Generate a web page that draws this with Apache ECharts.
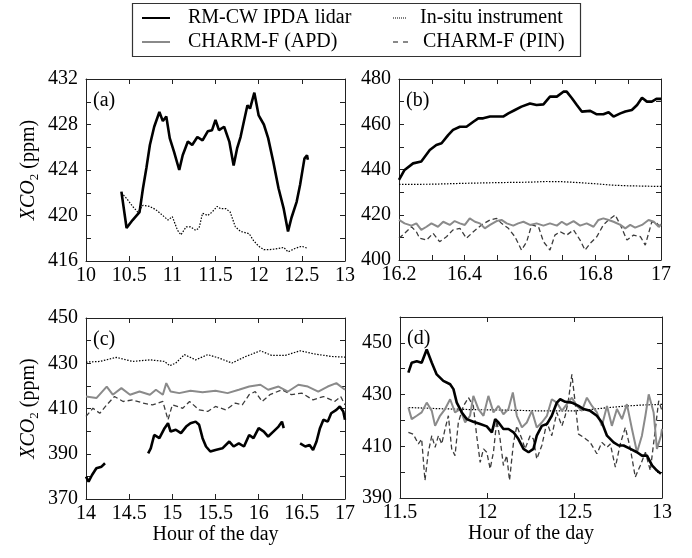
<!DOCTYPE html>
<html>
<head>
<meta charset="utf-8">
<script src="https://cdn.jsdelivr.net/npm/echarts@6/dist/echarts.min.js"></script>
<style>
  html, body { margin: 0; padding: 0; background: #fff; }
  #chart { width: 692px; height: 558px; }
</style>
</head>
<body>
<div id="chart"></div>
<script>
// panel (a)
const aLidar = [[10.41,422.1],[10.47,418.9],[10.54,419.6],[10.62,420.3],[10.66,422.4],[10.70,424.2],[10.74,426.2],[10.79,427.8],[10.85,429.1],[10.89,428.3],[10.93,428.7],[10.97,426.8],[11.02,425.6],[11.08,424.0],[11.12,425.3],[11.18,426.5],[11.23,426.2],[11.29,426.9],[11.35,426.6],[11.41,427.4],[11.46,427.5],[11.50,428.4],[11.54,427.5],[11.60,427.8],[11.66,426.5],[11.71,424.4],[11.75,425.9],[11.79,426.9],[11.83,428.3],[11.87,429.7],[11.90,429.4],[11.95,430.8],[12.00,428.8],[12.06,428.0],[12.11,426.8],[12.17,424.7],[12.23,422.4],[12.29,420.6],[12.34,418.6],[12.38,419.8],[12.44,421.2],[12.48,422.7],[12.53,425.0],[12.56,425.3],[12.57,424.9]];
const aInsitu = [[10.41,422.0],[10.47,421.5],[10.54,420.8],[10.60,420.3],[10.66,420.9],[10.74,420.8],[10.81,420.5],[10.89,420.0],[10.95,419.6],[11.00,419.9],[11.06,418.7],[11.10,418.3],[11.16,419.0],[11.21,419.0],[11.27,418.7],[11.31,418.9],[11.35,420.2],[11.41,420.0],[11.46,420.3],[11.52,420.8],[11.56,420.6],[11.62,420.6],[11.67,420.3],[11.73,419.0],[11.79,418.6],[11.89,418.4],[11.94,417.8],[12.00,417.3],[12.06,417.0],[12.13,417.0],[12.23,417.1],[12.29,417.2],[12.34,416.8],[12.42,417.1],[12.50,417.3],[12.57,417.1]];

// panel (b)
const bLidar = [[16.200,435.4],[16.217,439.8],[16.243,442.7],[16.268,443.5],[16.294,448.6],[16.314,450.8],[16.330,451.6],[16.350,455.2],[16.365,457.5],[16.386,458.9],[16.406,458.9],[16.427,461.1],[16.442,462.6],[16.457,462.6],[16.478,463.4],[16.498,463.4],[16.518,463.4],[16.534,464.8],[16.554,466.3],[16.574,467.8],[16.600,469.2],[16.620,468.5],[16.641,468.8],[16.661,472.2],[16.682,472.2],[16.702,474.4],[16.712,474.4],[16.728,471.5],[16.743,468.5],[16.758,465.6],[16.784,465.9],[16.804,464.4],[16.824,464.4],[16.840,465.3],[16.855,463.4],[16.876,464.8],[16.891,465.6],[16.911,466.3],[16.927,468.5],[16.942,471.7],[16.957,470.0],[16.972,470.0],[16.986,471.2],[17.000,471.2]];
const bInsitu = [[16.2,433.4],[16.3,433.5],[16.4,433.9],[16.5,434.2],[16.6,434.4],[16.65,434.7],[16.7,434.6],[16.75,434.2],[16.8,433.7],[16.85,433.1],[16.9,432.8],[17.0,432.5]];
const bApd = [[16.200,417.7],[16.217,416.2],[16.238,415.2],[16.253,416.2],[16.268,413.3],[16.284,414.7],[16.299,416.2],[16.319,414.7],[16.335,416.9],[16.355,415.5],[16.370,417.2],[16.386,416.2],[16.401,415.5],[16.416,418.4],[16.432,416.9],[16.447,416.2],[16.462,414.0],[16.478,415.5],[16.498,417.2],[16.513,417.7],[16.529,416.2],[16.549,415.2],[16.564,416.2],[16.580,416.9],[16.600,415.5],[16.620,416.2],[16.641,415.2],[16.661,416.2],[16.682,415.2],[16.697,416.9],[16.712,415.5],[16.733,417.2],[16.753,415.2],[16.773,416.2],[16.794,414.7],[16.809,417.7],[16.824,418.4],[16.840,417.7],[16.855,416.9],[16.876,415.5],[16.891,414.0],[16.906,415.5],[16.921,414.3],[16.942,415.5],[16.962,417.7],[16.978,416.9],[16.993,414.7],[17.000,415.8]];
const bPin = [[16.200,409.6],[16.217,411.8],[16.238,414.7],[16.253,412.5],[16.263,409.6],[16.284,408.8],[16.304,411.8],[16.324,408.1],[16.345,410.3],[16.365,413.3],[16.386,414.0],[16.406,409.6],[16.427,412.5],[16.452,415.5],[16.478,417.7],[16.498,418.4],[16.513,416.2],[16.534,414.0],[16.554,410.3],[16.574,404.4],[16.590,408.1],[16.605,415.5],[16.626,414.7],[16.641,408.1],[16.661,404.4],[16.676,411.0],[16.692,412.5],[16.712,411.0],[16.733,413.3],[16.753,408.8],[16.768,404.4],[16.784,407.4],[16.804,410.3],[16.824,415.5],[16.840,417.7],[16.860,419.9],[16.876,415.5],[16.896,408.8],[16.916,411.0],[16.937,410.3],[16.952,406.6],[16.972,416.9],[16.988,416.2],[17.000,414.0]];

// panel (c)
const cLidar = [[14.00,379.9],[14.03,377.7],[14.07,380.6],[14.12,383.6],[14.18,384.3],[14.22,385.8],[14.40,null],
  [14.72,390.2],[14.75,392.4],[14.79,398.3],[14.85,396.9],[14.91,401.3],[14.95,403.5],[14.98,399.8],[15.04,400.6],[15.10,399.1],[15.16,402.0],[15.21,403.5],[15.27,404.2],[15.31,402.8],[15.35,396.9],[15.39,393.2],[15.44,391.0],[15.50,391.7],[15.58,392.4],[15.66,395.4],[15.71,393.2],[15.77,394.6],[15.83,393.2],[15.89,398.3],[15.94,396.9],[16.00,401.3],[16.06,399.8],[16.11,397.6],[16.17,399.8],[16.23,402.0],[16.27,404.2],[16.29,401.3],[16.40,null],
  [16.48,394.6],[16.54,393.2],[16.59,393.9],[16.63,391.7],[16.67,395.4],[16.71,401.3],[16.75,405.0],[16.80,404.2],[16.84,407.9],[16.90,409.4],[16.94,410.9],[16.98,408.7],[17.00,405.0]];
const cInsitu = [[14.00,430.5],[14.16,430.8],[14.35,432.6],[14.54,430.8],[14.74,431.5],[14.91,430.8],[14.97,428.9],[15.04,430.1],[15.14,433.8],[15.27,431.5],[15.41,433.8],[15.54,432.3],[15.69,430.1],[15.85,433.0],[16.02,435.5],[16.15,433.5],[16.31,433.5],[16.48,435.5],[16.65,434.1],[16.84,433.0],[17.00,432.7]];
const cApd = [[14.00,415.3],[14.12,414.6],[14.24,419.7],[14.31,416.1],[14.41,419.0],[14.51,416.1],[14.62,417.5],[14.74,416.1],[14.81,418.3],[14.89,416.1],[14.93,421.2],[14.98,417.5],[15.08,416.8],[15.21,417.8],[15.35,417.2],[15.50,417.8],[15.64,416.8],[15.77,418.3],[15.89,419.7],[16.02,420.5],[16.11,418.3],[16.23,419.7],[16.34,417.5],[16.46,420.5],[16.57,419.7],[16.69,417.5],[16.80,419.7],[16.90,421.2],[17.00,418.3]];
const cPin = [[14.00,406.5],[14.08,410.1],[14.16,407.9],[14.24,411.6],[14.33,415.3],[14.43,413.1],[14.54,413.8],[14.66,412.4],[14.77,411.6],[14.89,413.1],[14.95,405.0],[15.00,411.6],[15.12,410.1],[15.20,413.1],[15.31,409.4],[15.41,408.7],[15.50,410.9],[15.62,409.4],[15.73,412.4],[15.81,411.6],[15.89,416.1],[15.96,417.5],[16.04,413.1],[16.13,416.1],[16.27,418.3],[16.38,416.1],[16.50,416.8],[16.63,413.8],[16.75,415.3],[16.88,413.1],[16.95,415.3],[17.00,411.6]];

// panel (d)
const dLidar = [[11.548,438.5],[11.567,442.3],[11.596,442.9],[11.624,442.3],[11.653,447.4],[11.682,442.3],[11.710,437.8],[11.748,435.3],[11.787,434.0],[11.806,432.1],[11.825,426.9],[11.854,423.1],[11.882,420.5],[11.920,419.5],[11.959,418.6],[11.997,417.7],[12.026,415.4],[12.045,420.5],[12.064,419.2],[12.092,416.7],[12.121,416.7],[12.150,415.4],[12.178,412.8],[12.207,409.0],[12.236,407.7],[12.264,409.0],[12.283,414.1],[12.312,417.9],[12.341,418.6],[12.369,421.8],[12.398,426.9],[12.417,428.2],[12.446,427.2],[12.484,426.9],[12.522,425.6],[12.551,424.4],[12.589,423.7],[12.627,421.8],[12.656,419.2],[12.685,414.1],[12.723,411.5],[12.752,410.3],[12.780,410.3],[12.819,409.0],[12.857,407.7],[12.885,406.4],[12.914,406.4],[12.943,402.6],[12.971,400.6],[12.994,399.4]];
const dInsitu = [[11.55,425.0],[11.7,424.6],[11.9,424.2],[12.1,424.0],[12.3,423.7],[12.5,423.7],[12.6,424.3],[12.7,425.0],[12.8,425.6],[12.9,426.0],[13.0,426.2]];
const dApd = [[11.548,425.0],[11.567,420.5],[11.596,421.8],[11.624,423.1],[11.653,426.9],[11.682,423.7],[11.701,417.9],[11.729,421.8],[11.758,424.4],[11.787,428.2],[11.815,423.1],[11.844,424.4],[11.873,419.2],[11.901,421.8],[11.920,429.5],[11.949,424.4],[11.978,421.8],[12.006,429.5],[12.035,423.1],[12.064,425.6],[12.092,422.4],[12.121,424.4],[12.146,430.8],[12.169,421.8],[12.198,417.3],[12.226,419.2],[12.255,423.7],[12.283,417.3],[12.312,419.2],[12.341,421.8],[12.369,428.2],[12.398,426.9],[12.427,423.7],[12.455,426.3],[12.484,428.8],[12.513,425.6],[12.541,423.7],[12.570,428.8],[12.599,425.6],[12.627,423.1],[12.656,417.9],[12.685,425.6],[12.713,417.9],[12.742,424.4],[12.771,420.5],[12.799,426.3],[12.828,416.7],[12.857,407.7],[12.885,414.1],[12.905,421.8],[12.924,430.1],[12.952,423.1],[12.971,409.0],[12.994,414.1],[13.000,416.7]];
const dPin = [[11.548,415.4],[11.576,414.7],[11.605,410.9],[11.624,412.8],[11.643,396.8],[11.662,407.7],[11.682,414.1],[11.701,409.6],[11.720,414.1],[11.739,410.9],[11.758,416.7],[11.777,421.8],[11.796,409.0],[11.815,406.4],[11.834,419.2],[11.863,425.6],[11.892,428.8],[11.920,425.6],[11.939,414.1],[11.959,403.8],[11.978,409.0],[11.997,407.7],[12.016,401.3],[12.035,407.7],[12.054,419.9],[12.073,412.8],[12.092,402.6],[12.111,406.4],[12.127,396.8],[12.150,411.5],[12.169,417.9],[12.198,412.8],[12.216,409.0],[12.245,414.1],[12.264,412.8],[12.283,405.1],[12.312,410.3],[12.341,419.2],[12.369,414.1],[12.398,423.1],[12.427,417.9],[12.446,421.8],[12.465,428.2],[12.484,437.8],[12.503,426.9],[12.522,414.7],[12.551,413.5],[12.589,411.5],[12.627,407.1],[12.656,411.5],[12.685,409.6],[12.704,410.9],[12.733,401.9],[12.761,410.9],[12.790,417.3],[12.819,409.0],[12.847,398.1],[12.876,402.6],[12.905,407.7],[12.933,400.6],[12.962,416.7],[12.981,427.6],[13.000,423.7]];

// axis ranges: [min, max, tick step] and [min, max, tick step, label step]
const panelNames = ['(a)', '(b)', '(c)', '(d)'];
const xRanges = [[10, 13, 0.5], [16.2, 17, 0.1], [14, 17, 0.5], [11.5, 13, 0.5]];
const yRanges = [[416, 432, 2, 4], [400, 480, 10, 20], [370, 450, 10, 20], [390, 460, 10, 20]];
const legendNames = ['RM-CW IPDA lidar', 'In-situ instrument', 'CHARM-F (APD)', 'CHARM-F (PIN)'];

const FONT = 'Liberation Serif';
const grids = [
  { left: 86, top: 79, width: 259, height: 182 },
  { left: 399, top: 79, width: 262, height: 181 },
  { left: 86, top: 318, width: 259, height: 181 },
  { left: 400, top: 317, width: 262, height: 181 }
];

const chartDom = document.getElementById('chart');
const myChart = echarts.init(chartDom);

const axisLine = { show: true, lineStyle: { color: '#222', width: 1 } };
const xAxis = [];
const yAxis = [];
const series = [];

grids.forEach((g, i) => {
  const xr = xRanges[i];
  const yr = yRanges[i];
  const xFmt = (v) => {
    if (i === 1) {
      const k = Math.round(v * 10);
      return k % 2 === 0 ? String(+(v.toFixed(1))) : '';
    }
    return String(+(v.toFixed(1)));
  };
  const yFmt = (v) => ((v - yr[0]) % yr[3] === 0 && v <= yr[1] - (i === 3 ? 10 : 0) ? String(v) : '');
  const isBottom = i >= 2;
  const isLeft = i % 2 === 0;
  xAxis.push({
    type: 'value', gridIndex: i, min: xr[0], max: xr[1], interval: xr[2],
    axisLine: axisLine, splitLine: { show: false },
    axisTick: { inside: true, length: 5, lineStyle: { color: '#222' } },
    axisLabel: { color: '#000', fontFamily: FONT, fontSize: 20, margin: 5, formatter: xFmt, showMinLabel: true, showMaxLabel: true },
    name: isBottom ? 'Hour of the day' : '', nameLocation: 'middle', nameGap: 24,
    nameTextStyle: { color: '#000', fontFamily: FONT, fontSize: 20, padding: [2, 0, 0, 0] }
  });
  xAxis.push({
    type: 'value', gridIndex: i, position: 'top', min: xr[0], max: xr[1], interval: xr[2],
    axisLine: axisLine, splitLine: { show: false },
    axisTick: { inside: true, length: 5, lineStyle: { color: '#222' } },
    axisLabel: { show: false }
  });
  yAxis.push({
    type: 'value', gridIndex: i, min: yr[0], max: yr[1], interval: yr[2],
    axisLine: axisLine, splitLine: { show: false },
    axisTick: { inside: true, length: 5, lineStyle: { color: '#222' } },
    axisLabel: { color: '#000', fontFamily: FONT, fontSize: 20, margin: 8, formatter: yFmt },
    name: isLeft ? '{i|XCO}{s|2}{n| (ppm)}' : '', nameLocation: 'middle', nameGap: 47,
    nameTextStyle: {
      color: '#000', fontFamily: FONT, fontSize: 20,
      rich: {
        i: { fontStyle: 'italic', fontFamily: FONT, fontSize: 20, color: '#000', lineHeight: 26, verticalAlign: 'bottom' },
        s: { fontFamily: FONT, fontSize: 13, color: '#000', lineHeight: 20, verticalAlign: 'bottom', padding: [0, 0, -2, 0] },
        n: { fontFamily: FONT, fontSize: 20, color: '#000', lineHeight: 26, verticalAlign: 'bottom' }
      }
    }
  });
  yAxis.push({
    type: 'value', gridIndex: i, position: 'right', min: yr[0], max: yr[1], interval: yr[2],
    axisLine: axisLine, splitLine: { show: false },
    axisTick: { inside: true, length: 5, lineStyle: { color: '#222' } },
    axisLabel: { show: false }
  });
});

function addLine(panel, name, data, style) {
  series.push({
    name: name, type: 'line', xAxisIndex: panel * 2, yAxisIndex: panel * 2,
    data: data, showSymbol: false, symbol: 'none', connectNulls: false,
    animation: false, silent: true,
    lineStyle: style
  });
}

const lidarStyle = { color: '#000', width: 2.6 };
const insituStyle = { color: '#000', width: 1.2, type: [1.5, 1.5] };
const apdStyle = { color: '#8a8a8a', width: 2 };
const pinStyle = { color: '#3c3c3c', width: 1.3, type: [5, 3] };

addLine(0, legendNames[1], aInsitu, insituStyle);
addLine(0, legendNames[0], aLidar, lidarStyle);

addLine(1, legendNames[1], bInsitu, insituStyle);
addLine(1, legendNames[3], bPin, pinStyle);
addLine(1, legendNames[2], bApd, apdStyle);
addLine(1, legendNames[0], bLidar, lidarStyle);

addLine(2, legendNames[1], cInsitu, insituStyle);
addLine(2, legendNames[3], cPin, pinStyle);
addLine(2, legendNames[2], cApd, apdStyle);
addLine(2, legendNames[0], cLidar, lidarStyle);

addLine(3, legendNames[1], dInsitu, insituStyle);
addLine(3, legendNames[3], dPin, pinStyle);
addLine(3, legendNames[2], dApd, apdStyle);
addLine(3, legendNames[0], dLidar, lidarStyle);

// legend box and panel tags drawn as graphic
const textStyle = { fill: '#000', fontFamily: FONT, fontSize: 20 };
const graphic = [
  { type: 'rect', shape: { x: 132.5, y: 3.5, width: 448, height: 53 }, style: { fill: '#fff', stroke: '#333', lineWidth: 1.2 } },
  { type: 'line', shape: { x1: 142, y1: 18, x2: 170, y2: 18 }, style: { stroke: '#000', lineWidth: 2 } },
  { type: 'text', x: 188, y: 18, style: Object.assign({ text: legendNames[0], verticalAlign: 'middle' }, textStyle) },
  { type: 'line', shape: { x1: 393, y1: 18, x2: 407, y2: 18 }, style: { stroke: '#000', lineWidth: 1, lineDash: [1, 1] } },
  { type: 'text', x: 420, y: 18, style: Object.assign({ text: legendNames[1], verticalAlign: 'middle' }, textStyle) },
  { type: 'line', shape: { x1: 142, y1: 42, x2: 170, y2: 42 }, style: { stroke: '#8a8a8a', lineWidth: 2 } },
  { type: 'text', x: 188, y: 42, style: Object.assign({ text: legendNames[2], verticalAlign: 'middle' }, textStyle) },
  { type: 'line', shape: { x1: 393, y1: 42, x2: 408, y2: 42 }, style: { stroke: '#3c3c3c', lineWidth: 1.2, lineDash: [5, 5] } },
  { type: 'text', x: 423, y: 42, style: Object.assign({ text: legendNames[3], verticalAlign: 'middle' }, textStyle) }
];
grids.forEach((g, i) => {
  graphic.push({ type: 'text', x: g.left + 7, y: g.top + 22, style: Object.assign({ text: panelNames[i], verticalAlign: 'middle' }, textStyle) });
});

const option = {
  backgroundColor: '#fff',
  animation: false,
  grid: grids,
  xAxis: xAxis,
  yAxis: yAxis,
  series: series,
  graphic: graphic
};
myChart.setOption(option);
</script>
</body>
</html>
